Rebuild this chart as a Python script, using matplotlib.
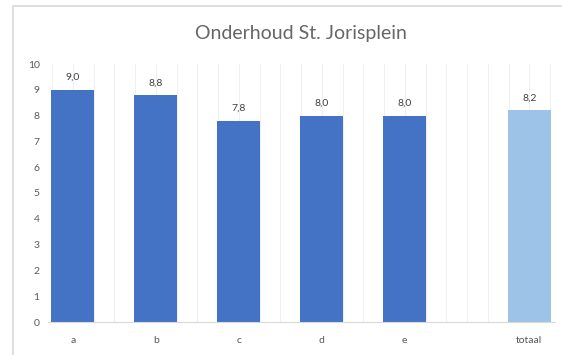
import numpy as np
import matplotlib.pyplot as plt
from matplotlib.lines import Line2D

# Scores per onderdeel, plus the overall total
categories = ["a", "b", "c", "d", "e", "totaal"]
scores = [9.0, 8.8, 7.8, 8.0, 8.0, 8.2]
positions = [0, 1, 2, 3, 4, 5.5]
bar_colors = ["#4472C4"] * 5 + ["#9DC3E6"]

plt.rcParams['font.family'] = ['Lato', 'DejaVu Sans']

fig = plt.figure(figsize=(5.62, 3.55), dpi=100)

# light chart border (left and top edges; the rest runs off the figure)
left, top = 13 / 562, 1 - 6 / 355
fig.lines.append(Line2D([left, left, 1.0], [0.0, top, top], transform=fig.transFigure,
                        color="#d9d9d9", linewidth=1.2))

ax = fig.add_axes([48 / 562, 1 - 322 / 355, (555 - 48) / 562, (322 - 64) / 355])

# faint vertical lines behind the bars
for x in np.arange(-0.25, 5.8, 0.25):
    ax.axvline(x, color="#f0f0f0", linewidth=0.8, zorder=0)

ax.bar(positions, scores, width=0.52, color=bar_colors, zorder=2)

for x, v in zip(positions, scores):
    ax.text(x, v + 0.3, f"{v:.1f}".replace(".", ","), ha="center", va="bottom",
            fontsize=7.5, color="#404040")

ax.set_xlim(-0.30, 5.81)
ax.set_ylim(0, 10)
ax.set_yticks(range(0, 11))
ax.set_xticks(positions)
ax.set_xticklabels(categories)
ax.tick_params(length=0, labelsize=7.5, colors="#595959")
ax.tick_params(axis="x", pad=10)
ax.tick_params(axis="y", pad=6)

for side in ["top", "right", "left"]:
    ax.spines[side].set_visible(False)
ax.spines["bottom"].set_color("#d9d9d9")

fig.text(301 / 562, 1 - 34 / 355, "Onderhoud St. Jorisplein", ha="center", va="center",
         fontsize=14, color="#666666")

fig.savefig("out.png", dpi=100)
